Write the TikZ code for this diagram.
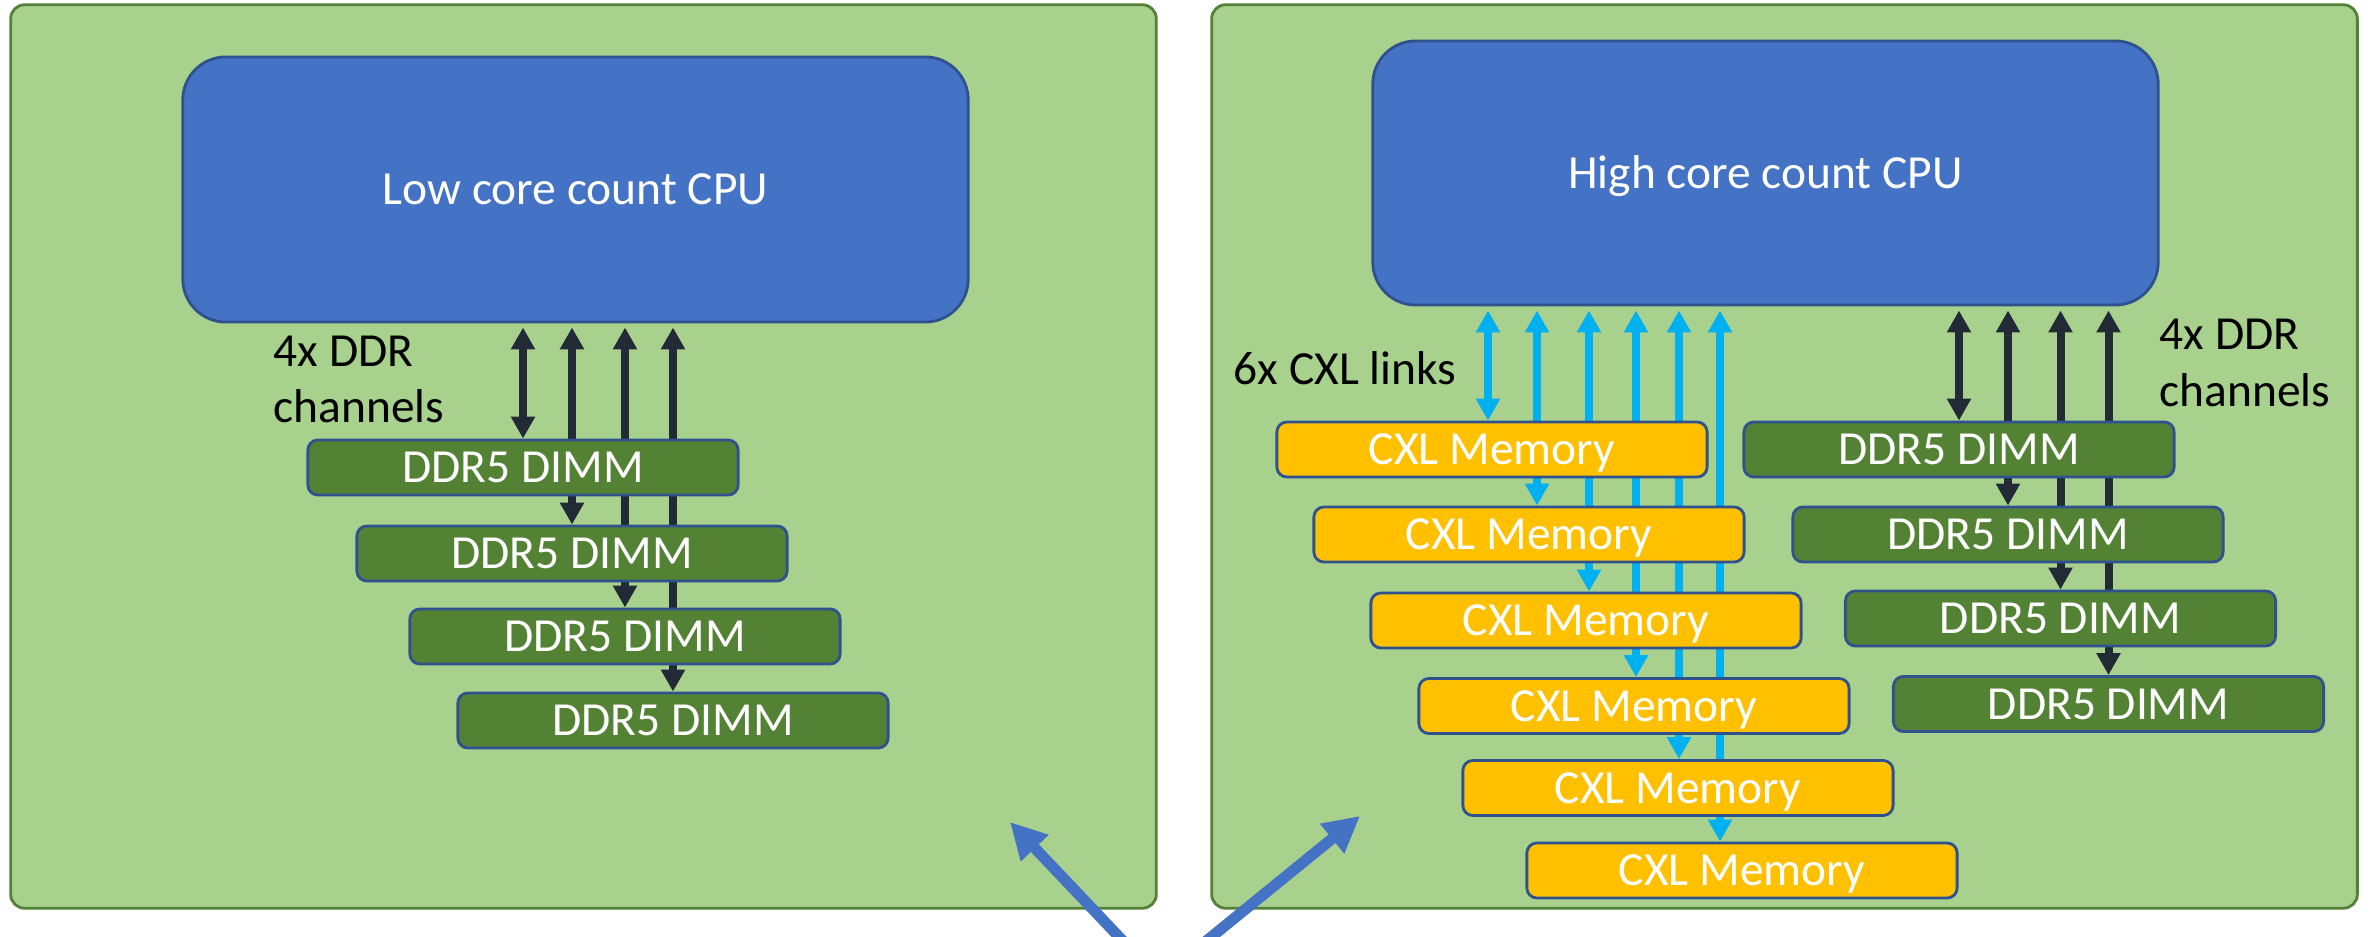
\documentclass[tikz,border=0pt]{standalone}
\usepackage{fontspec}
\setmainfont{Carlito}
\usetikzlibrary{arrows.meta}

\definecolor{board}{HTML}{A9D18E}
\definecolor{boardline}{HTML}{538135}
\definecolor{cpufill}{HTML}{4472C4}
\definecolor{cpuline}{HTML}{2F528F}
\definecolor{dimmfill}{HTML}{548235}
\definecolor{cxlfill}{HTML}{FFC000}
\definecolor{ddrline}{HTML}{222A35}
\definecolor{cxlline}{HTML}{00B0F0}

\pgfdeclarelayer{boardlayer}
\pgfdeclarelayer{linklayer}
\pgfsetlayers{boardlayer,linklayer,main}

\tikzset{
  txt/.style={font=\fontsize{13.5pt}{16pt}\selectfont},
  boardbox/.style={draw=boardline, fill=board, line width=0.8pt, rounded corners=0.14cm,
    minimum width=11.45cm, minimum height=9.03cm, inner sep=0pt},
  cpubox/.style={draw=cpuline, fill=cpufill, line width=0.8pt, rounded corners=0.43cm,
    minimum width=7.85cm, minimum height=2.65cm, inner sep=0pt, text=white, txt,
    text height=0.3cm, text depth=0pt},
  module/.style={draw=cpuline, line width=0.8pt, rounded corners=0.1cm,
    minimum width=4.3cm, minimum height=0.55cm, inner sep=0pt, text=white, txt,
    text height=0.3cm, text depth=0pt},
  dimm/.style={module, fill=dimmfill},
  cxl/.style={module, fill=cxlfill},
  note/.style={txt, text=black, inner sep=0pt, anchor=base west},
  ddr/.style={draw=ddrline, line width=0.08cm, shorten <=0.04cm,
    arrows={Triangle[width=0.23cm,length=0.22cm]-Triangle[width=0.23cm,length=0.22cm]}},
  cxllink/.style={ddr, draw=cxlline},
  pointer/.style={draw=cpufill, line width=0.11cm,
    arrows={-Triangle[width=0.36cm,length=0.36cm]}},
}

\begin{document}
\begin{tikzpicture}[x=0.01cm, y=-0.01cm]
\useasboundingbox (0,0) rectangle (2371,937);

% the two boards
\begin{pgfonlayer}{boardlayer}
  \node[boardbox] (boardL) at (583.5,456.5) {};
  \node[boardbox] (boardR) at (1784.5,456.5) {};
\end{pgfonlayer}

% processors
\node[cpubox] (cpuL) at (575.5,189.5) {Low core count CPU};
\node[cpubox, minimum height=2.64cm] (cpuR) at (1765.5,173) {High core count CPU};

% memory modules of the left board
\node[dimm] (L1) at (523,467.5) {DDR5 DIMM};
\node[dimm] (L2) at (572,553.5) {DDR5 DIMM};
\node[dimm] (L3) at (625,636.5) {DDR5 DIMM};
\node[dimm] (L4) at (673,720.5) {DDR5 DIMM};

% CXL expanders of the right board
\node[cxl] (C1) at (1492,449.5) {CXL Memory};
\node[cxl] (C2) at (1529,534.5) {CXL Memory};
\node[cxl] (C3) at (1586,620.5) {CXL Memory};
\node[cxl] (C4) at (1634,706) {CXL Memory};
\node[cxl] (C5) at (1678,788) {CXL Memory};
\node[cxl] (C6) at (1742,870.5) {CXL Memory};

% memory modules of the right board
\node[dimm] (R1) at (1959,449.5) {DDR5 DIMM};
\node[dimm] (R2) at (2008,534.5) {DDR5 DIMM};
\node[dimm] (R3) at (2060.5,618.5) {DDR5 DIMM};
\node[dimm] (R4) at (2108.5,704) {DDR5 DIMM};

% channels, drawn beneath the modules
\begin{pgfonlayer}{linklayer}
  \foreach \m in {L1,L2,L3,L4}
    \draw[ddr] (cpuL.south -| \m.north) -- (\m.north);
  \foreach \m in {R1,R2,R3,R4}
    \draw[ddr] (cpuR.south -| \m.north) -- (\m.north);
  \foreach \m/\x in {C1/1488,C2/1537,C3/1589,C4/1636,C5/1679,C6/1720}{
    \coordinate (k\m) at (\x,0);
    \draw[cxllink] (cpuR.south -| k\m) -- (\m.north -| k\m);
  }
\end{pgfonlayer}

% labels
\node[note] (ddrLa) at (273,367) {4x DDR};
\node[note] (ddrLb) at (273,423) {channels};
\node[note] (cxlN) at (1233,385) {6x CXL links};
\node[note] (ddrRa) at (2159,350) {4x DDR};
\node[note] (ddrRb) at (2159,407) {channels};

% pointers towards both boards
\begin{scope}
  \clip (0,0) rectangle (2371,937);
  \coordinate (tailA) at (1141,960);
  \coordinate (tipA) at (1010,822);
  \coordinate (tailB) at (1183,960);
  \coordinate (tipB) at (1360,816);
  \draw[pointer] (tailA) -- (tipA);
  \draw[pointer] (tailB) -- (tipB);
\end{scope}
\end{tikzpicture}
\end{document}
